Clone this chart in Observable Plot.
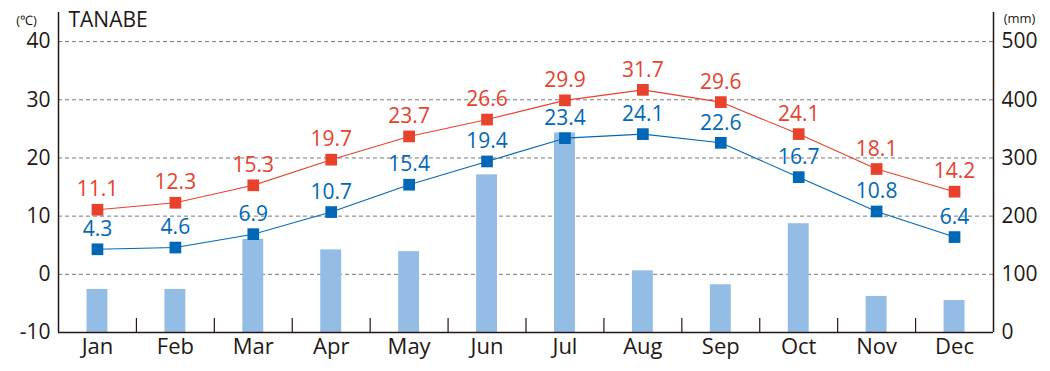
<!DOCTYPE html>
<html>
<head>
<meta charset="utf-8">
<script src="https://cdn.jsdelivr.net/npm/d3@7"></script>
<script src="https://cdn.jsdelivr.net/npm/@observablehq/plot@0.6"></script>
<style>
  html, body { margin: 0; padding: 0; background: #fff; }
  #chart { width: 1050px; height: 371px; }
</style>
</head>
<body>
<div id="chart"></div>
<script>
const months = ["Jan","Feb","Mar","Apr","May","Jun","Jul","Aug","Sep","Oct","Nov","Dec"];
const tempMax = [11.1,12.3,15.3,19.7,23.7,26.6,29.9,31.7,29.6,24.1,18.1,14.2];
const tempMin = [4.3,4.6,6.9,10.7,15.4,19.4,23.4,24.1,22.6,16.7,10.8,6.4];
const precip = [74,74,160,142,139,271,343,106,82,187,62,55];
const tempTicks = [-10,0,10,20,30,40];
const mmTicks = [0,100,200,300,400,500];
const title = "TANABE";
const tempUnit = "(\u2103)";
const mmUnit = "(mm)";

const RED = "#e8412c";
const BLUE = "#0068b7";
const BAR = "#94bde6";
const INK = "#231815";

// precipitation mapped onto the temperature scale: 0mm -> -10, 500mm -> 40
const mmToT = mm => mm / 10 - 10;

const rows = months.map((m, i) => ({i, m, max: tempMax[i], min: tempMin[i], mm: precip[i]}));

const chart = Plot.plot({
  width: 1050,
  height: 371,
  marginLeft: 58,
  marginRight: 57,
  marginTop: 12,
  marginBottom: 39,
  style: {fontFamily: "'Open Sans', sans-serif", fontSize: "20px", color: INK, background: "#fff"},
  x: {type: "linear", domain: [0, 12], axis: null},
  y: {domain: [-10, 45], axis: null},
  marks: [
    // dashed gridlines
    Plot.ruleY(tempTicks.filter(t => t > -10), {stroke: "#7a7a7a", strokeWidth: 1, strokeDasharray: "4,3"}),
    // precipitation bars
    Plot.rectY(rows, {x1: d => d.i, x2: d => d.i + 1, y1: -10, y2: d => mmToT(d.mm), fill: BAR, insetLeft: 28.5, insetRight: 28.5}),
    // frame: left, right, bottom
    Plot.ruleX([0, 12], {y1: -10, y2: 45, stroke: INK, strokeWidth: 1.5}),
    Plot.ruleY([-10], {stroke: INK, strokeWidth: 1.5}),
    // month separator ticks
    Plot.ruleX(d3.range(1, 12), {y1: -10, y2: -7.6, stroke: INK, strokeWidth: 1.2}),
    // temperature lines
    Plot.line(rows, {x: d => d.i + 0.5, y: "max", stroke: RED, strokeWidth: 1.1}),
    Plot.line(rows, {x: d => d.i + 0.5, y: "min", stroke: BLUE, strokeWidth: 1.1}),
    Plot.dot(rows, {x: d => d.i + 0.5, y: "max", symbol: "square", r: 6.6, fill: RED}),
    Plot.dot(rows, {x: d => d.i + 0.5, y: "min", symbol: "square", r: 6.6, fill: BLUE}),
    Plot.text(rows, {x: d => d.i + 0.5, y: "max", text: d => d.max.toFixed(1), dy: -20, fill: RED, fontSize: 21, letterSpacing: "-0.6px"}),
    Plot.text(rows, {x: d => d.i + 0.5, y: "min", text: d => d.min.toFixed(1), dy: -20, fill: BLUE, fontSize: 21, letterSpacing: "-0.6px"}),
    // axes
    Plot.axisY(tempTicks, {anchor: "left", tickSize: 0, tickPadding: 8, fontSize: 21, fill: INK, label: null,
      tickFormat: d => String(d)}),
    Plot.axisY(tempTicks, {anchor: "right", tickSize: 0, tickPadding: 8, fontSize: 21, fill: INK, label: null,
      tickFormat: d => String(mmTicks[tempTicks.indexOf(d)])}),
    Plot.axisX(d3.range(12).map(i => i + 0.5), {anchor: "bottom", tickSize: 0, tickPadding: 6, fontSize: 22, fill: INK, label: null,
      tickFormat: d => months[Math.floor(d)]}),
    // title & units
    Plot.text([title], {frameAnchor: "top-left", dx: 10, dy: 0, lineAnchor: "top", textAnchor: "start", fontSize: 21, fill: INK}),
    Plot.text([tempUnit], {frameAnchor: "top-left", dx: -32, dy: 3, lineAnchor: "top", textAnchor: "middle", fontSize: 13, fill: INK}),
    Plot.text([mmUnit], {frameAnchor: "top-right", dx: 26, dy: 1, lineAnchor: "top", textAnchor: "middle", fontSize: 13, fill: INK})
  ]
});
document.getElementById("chart").appendChild(chart);
</script>
</body>
</html>
